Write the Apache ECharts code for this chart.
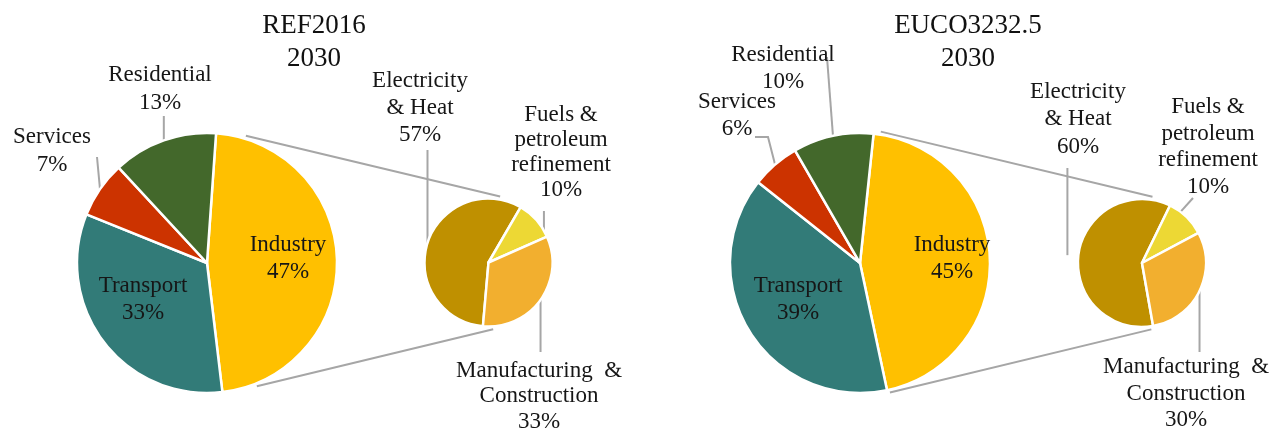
<!DOCTYPE html>
<html>
<head>
<meta charset="utf-8">
<title>Industry share 2030</title>
<script src="https://cdn.jsdelivr.net/npm/echarts@6/dist/echarts.min.js"></script>
<style>
  html, body { margin: 0; padding: 0; background: #fff; }
  #chart { width: 1273px; height: 434px; }
</style>
</head>
<body>
<div id="chart"></div>
<script>
// big pies: sectors, clockwise from the top
const sectors = ["Industry", "Transport", "Services", "Residential"];
const ref2016Sectors = [47, 33, 7, 13];
const euco32325Sectors = [45, 39, 6, 10];

// small pies: split of the industry slice
const industryParts = ["Electricity & Heat", "Fuels & petroleum refinement", "Manufacturing & Construction"];
const ref2016Industry = [57, 10, 33];
const euco32325Industry = [60, 10, 30];

const titles = ["REF2016\n2030", "EUCO3232.5\n2030"];

const sectorColors = ["#FFC000", "#327B78", "#CC3300", "#43682B"];
const partColors = ["#BF9000", "#EDD834", "#F2AF2F"];

// how the long names wrap in the labels
const wrapped = {
  "Electricity & Heat": "Electricity\n& Heat",
  "Fuels & petroleum refinement": "Fuels &\npetroleum\nrefinement",
  "Manufacturing & Construction": "Manufacturing  &\nConstruction"
};

const FONT = "Liberation Serif";
const LINE_COLOR = "#A6A6A6";

// layout of the four pies (start = degrees clockwise from 12 o'clock)
const pies = [
  { center: [207, 263], r: 130, start: 4 },
  { center: [488.5, 262.5], r: 64, start: 185 },
  { center: [860, 263], r: 130, start: 6 },
  { center: [1142, 263], r: 64, start: 170 }
];

const seriesValues = [ref2016Sectors, ref2016Industry, euco32325Sectors, euco32325Industry];
const seriesNames = [sectors, industryParts, sectors, industryParts];
const colorSets = [sectorColors, partColors, sectorColors, partColors];

// label block: centre x, top y
const labelSpots = [
  [[288, 231], [143, 272], [52, 123], [160, 61]],
  [[420, 67], [561, 102], [539, 358]],
  [[952, 231], [798, 272], [737, 88], [783, 41]],
  [[1078, 78], [1208, 94], [1186, 354]]
];
const labelLineHeights = [
  [27, 27, 28, 28],
  [27, 25, 25.5],
  [27, 27, 27, 27],
  [27.5, 26.5, 26.5]
];

// leader lines: start on the slice edge (mid angle unless "at"), then go to points
const leaders = [
  [null, null, { to: [[97, 157]] }, { to: [[null, 116]] }],
  [{ to: [[null, 150]] }, { at: 60, to: [[null, 211]] }, { to: [[null, 352]] }],
  [null, null, { to: [[768, 137], [755, 137]] }, { to: [[827, 57]] }],
  [{ at: 276, gap: 11, to: [[null, 168]] }, { at: 37, to: [[1193, 198]] }, { to: [[null, 352]] }]
];

// grey lines joining the industry slice to its breakdown
const connectors = [
  { main: 0, sub: 1, mainAt: [17, 158], subAt: [10, 176] },
  { main: 2, sub: 3, mainAt: [9, 167], subAt: [9, 172] }
];

function midAngle(i, k) {
  const vals = seriesValues[i];
  const total = vals.reduce((a, b) => a + b, 0);
  let before = 0;
  for (let j = 0; j < k; j++) before += vals[j];
  return pies[i].start + (before + vals[k] / 2) / total * 360;
}

function edge(i, deg, gap) {
  const p = pies[i];
  const rad = deg * Math.PI / 180;
  const r = p.r + (gap || 0);
  return [p.center[0] + r * Math.sin(rad), p.center[1] - r * Math.cos(rad)];
}

const graphics = [];

connectors.forEach(c => {
  for (let s = 0; s < 2; s++) {
    graphics.push({
      type: "polyline",
      z: 1,
      silent: true,
      shape: { points: [edge(c.main, c.mainAt[s], 3), edge(c.sub, c.subAt[s], 3)] },
      style: { stroke: LINE_COLOR, lineWidth: 2, fill: null }
    });
  }
});

leaders.forEach((row, i) => {
  row.forEach((ld, k) => {
    if (!ld) return;
    const start = edge(i, ld.at != null ? ld.at : midAngle(i, k), ld.gap || 0);
    const pts = [start].concat(ld.to.map(p => [p[0] == null ? start[0] : p[0], p[1]]));
    graphics.push({
      type: "polyline",
      z: 1,
      silent: true,
      shape: { points: pts },
      style: { stroke: LINE_COLOR, lineWidth: 2, fill: null }
    });
  });
});

const chart = echarts.init(document.getElementById("chart"));

const option = {
  animation: false,
  title: titles.map((t, j) => ({
    text: t,
    left: [314, 968][j],
    top: 9,
    padding: 0,
    textAlign: "center",
    textStyle: {
      fontFamily: FONT,
      fontSize: 27,
      lineHeight: 33,
      fontWeight: "normal",
      color: "#111"
    }
  })),
  graphic: { elements: graphics },
  series: seriesValues.map((vals, i) => ({
    type: "pie",
    center: pies[i].center,
    radius: pies[i].r,
    startAngle: 90 - pies[i].start,
    clockwise: true,
    avoidLabelOverlap: false,
    z: 2,
    itemStyle: { borderColor: "#fff", borderWidth: 2.5 },
    emphasis: { disabled: true },
    label: {
      show: true,
      position: "outside",
      formatter: p => (wrapped[p.name] || p.name) + "\n" + p.value + "%",
      fontFamily: FONT,
      fontSize: 23,
      color: "#161616",
      align: "center"
    },
    labelLine: { show: false },
    labelLayout: p => ({
      x: labelSpots[i][p.dataIndex][0],
      y: labelSpots[i][p.dataIndex][1],
      align: "center",
      verticalAlign: "top"
    }),
    data: vals.map((v, k) => ({
      name: seriesNames[i][k],
      value: v,
      itemStyle: { color: colorSets[i][k] },
      label: { lineHeight: labelLineHeights[i][k] }
    }))
  }))
};

chart.setOption(option);
</script>
</body>
</html>
